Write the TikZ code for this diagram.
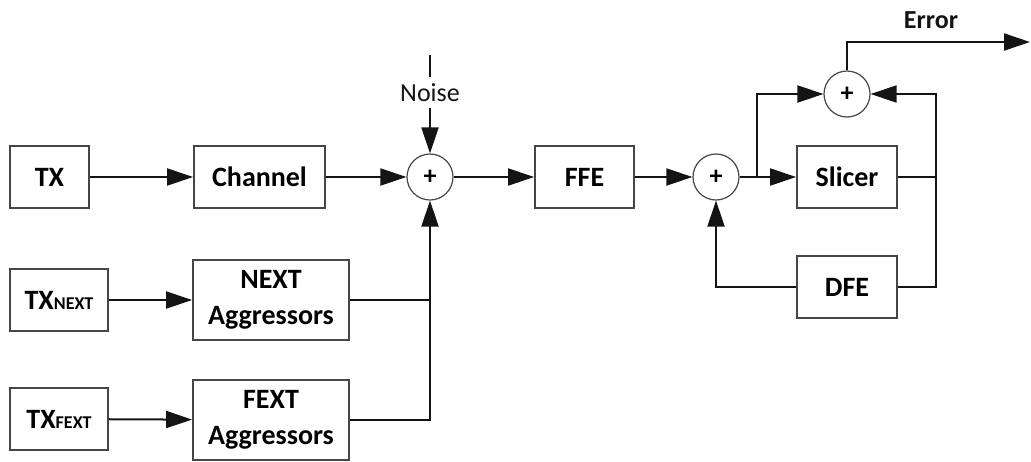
\documentclass[tikz,border=0pt]{standalone}
\usepackage{fontspec}
\setmainfont{Carlito}
\usetikzlibrary{arrows.meta,positioning,calc}
\definecolor{ink}{RGB}{20,20,20}
\definecolor{frame}{RGB}{70,70,70}
\tikzset{
  >={Triangle[length=13pt,width=8.5pt]},
  block/.style={draw=frame,line width=0.9pt,fill=white,minimum width=#1,minimum height=31pt,
    align=center,font=\fontsize{14}{18}\selectfont\bfseries,inner sep=1pt},
  block/.default=50pt,
  summer/.style={circle,draw=frame,line width=0.6pt,fill=white,minimum size=23pt,inner sep=0pt,
    font=\fontsize{13}{13}\selectfont\bfseries},
  wire/.style={draw=ink,line width=1pt},
  tag/.style={font=\fontsize{13}{14}\selectfont,text=ink,inner sep=0pt},
}
\newcommand{\sub}[1]{{\fontsize{9}{10}\selectfont #1}}

\begin{document}
\begin{tikzpicture}[x=0.5pt,y=-0.5pt]
  \useasboundingbox (0,0) rectangle (1031,461);
  % top row
  \node[block=39.5pt] (tx) at (49.5,177) {TX};
  \node[block=65.5pt] (ch) at (259.5,177) {Channel};
  \node[summer] (s1) at (430,177) {+};
  \node[block=49.5pt] (ffe) at (584.5,177) {FFE};
  \node[summer] (s2) at (716,177) {+};
  \node[block] (sl) at (847,177) {Slicer};
  \node[block] (dfe) at (847,287) {DFE};
  \node[summer] (s3) at (847,94) {+};
  % crosstalk sources
  \node[block=49pt] (txn) at (59,300) {TX\sub{NEXT}};
  \node[block=49pt] (txf) at (59,419) {TX\sub{FEXT}};
  \node[block=78pt,minimum height=40pt] (next) at (271,300) {NEXT\\Aggressors};
  \node[block=78pt,minimum height=40pt] (fext) at (271,420) {FEXT\\Aggressors};
  % labels
  \node[tag,minimum height=15.5pt] (noise) at (430,92.5) {Noise};
  \node[tag,font=\fontsize{13}{14}\selectfont\bfseries] (errlbl) at (931,20) {Error};
  \coordinate (ntop) at (430,55);
  \coordinate (br) at (757,177);
  \coordinate (rtop) at (936,94);
  \coordinate (err) at (1030,42);

  \draw[wire,->] (tx) -- (ch);
  \draw[wire,->] (ch) -- (s1);
  \draw[wire] (ntop) -- (noise);
  \draw[wire,->] (noise) -- (s1);
  \draw[wire,->] (s1) -- (ffe);
  \draw[wire,->] (ffe) -- (s2);
  \draw[wire] (s2) -- (br);
  \draw[wire,->] (br) -- (sl);
  \draw[wire,->] (br) |- (s3);
  \draw[wire] (sl) -- (sl -| rtop);
  \draw[wire,->] (dfe) -| (rtop) -- (s3);
  \draw[wire,->] (dfe) -| (s2);
  \draw[wire,->] (s3) |- (err);
  \draw[wire,->] (txn) -- (next);
  \draw[wire,->] (txf) -- (fext);
  \draw[wire] (next) -- (next -| s1);
  \draw[wire,->] (fext) -| (s1);
\end{tikzpicture}
\end{document}
